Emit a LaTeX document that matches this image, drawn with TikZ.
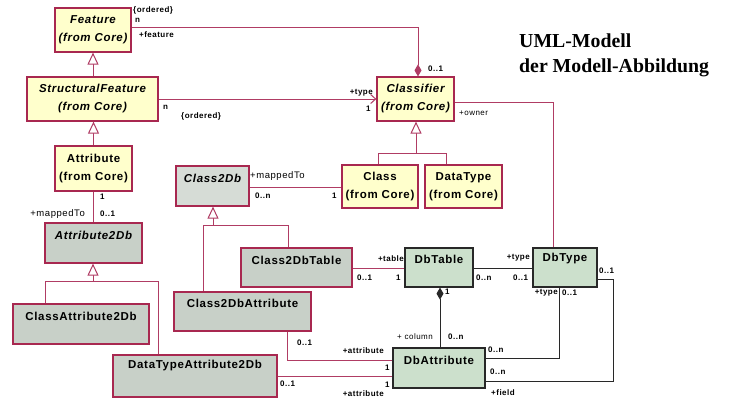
\documentclass[tikz,border=0pt]{standalone}
\usepackage{fontspec}
\setmainfont{Liberation Sans}
\newfontfamily\boxfont[LetterSpace=6]{Liberation Sans}
\newfontfamily\titlefont{Liberation Serif}
\usetikzlibrary{arrows.meta,calc}
\definecolor{crim}{RGB}{168,40,80}
\definecolor{crimln}{RGB}{176,60,100}
\definecolor{yel}{RGB}{255,255,204}
\definecolor{gry}{RGB}{200,208,200}
\definecolor{lgry}{RGB}{214,220,214}
\definecolor{grn}{RGB}{204,224,204}
\definecolor{dk}{RGB}{40,40,40}
\tikzset{
  x=1pt, y=-1pt,
  boxbase/.style={rectangle, line width=1.2pt, inner sep=0pt, align=center,
    font=\boxfont\bfseries\fontsize{11.5}{18}\selectfont},
  ybox/.style={boxbase, draw=crim, fill=yel},
  gbox/.style={boxbase, draw=crim, fill=gry},
  lgbox/.style={boxbase, draw=crim, fill=lgry},
  grbox/.style={boxbase, draw=dk, fill=grn},
  nm/.style={inner sep=0pt, font=\boxfont\bfseries\fontsize{11.5}{18}\selectfont},
  nmi/.style={nm, font=\boxfont\bfseries\itshape\fontsize{11.5}{18}\selectfont},
  lbl/.style={inner sep=0pt, anchor=west, font=\boxfont\bfseries\fontsize{8}{9}\selectfont},
  lblr/.style={inner sep=0pt, anchor=west, font=\boxfont\fontsize{8}{9}\selectfont},
  lblm/.style={inner sep=0pt, anchor=west, font=\boxfont\fontsize{9.5}{10}\selectfont},
  crimline/.style={draw=crimln, line width=1pt},
  darkline/.style={draw=dk, line width=1pt},
  gen/.style={-{Triangle[open, fill=white, length=12pt, width=11pt]}},
  comp/.style={-{Diamond[length=12pt, width=7pt]}},
}
\begin{document}
\begin{tikzpicture}
\fill[white] (0,0) rectangle (730,399);
\useasboundingbox (0,0) rectangle (730,399);

% title
\node[inner sep=0pt, anchor=base west, font=\titlefont\bfseries\fontsize{19.8}{25}\selectfont, align=left] (title) at (519,72) {UML-Modell\\der Modell-Abbildung};

% core classes
\node[ybox, minimum width=76pt, minimum height=44pt, font=\boxfont\bfseries\itshape\fontsize{11.5}{18}\selectfont] (feature) at (93,30) {Feature\\(from Core)};
\node[ybox, minimum width=131pt, minimum height=44pt, font=\boxfont\bfseries\itshape\fontsize{11.5}{18}\selectfont] (sf) at (92.5,99) {StructuralFeature\\(from Core)};
\node[ybox, minimum width=77pt, minimum height=45pt] (attribute) at (93.5,168.5) {Attribute\\(from Core)};
\node[ybox, minimum width=77pt, minimum height=44pt, font=\boxfont\bfseries\itshape\fontsize{11.5}{18}\selectfont] (classifier) at (415.5,99) {Classifier\\(from Core)};
\node[ybox, minimum width=76pt, minimum height=43pt] (class) at (380,186.5) {Class\\(from Core)};
\node[ybox, minimum width=77pt, minimum height=43pt] (datatype) at (463.5,186.5) {DataType\\(from Core)};

% mapping classes
\node[lgbox, minimum width=73pt, minimum height=40pt] (c2db) at (212.5,186) {};
\node[nmi] (c2dbT) at (212.5,178) {Class2Db};
\node[gbox, minimum width=97pt, minimum height=40pt] (a2db) at (93.5,243) {};
\node[nmi] (a2dbT) at (93.5,235) {Attribute2Db};
\node[gbox, minimum width=136pt, minimum height=40pt] (cattr) at (81,324) {};
\node[nm] (cattrT) at (81,316) {ClassAttribute2Db};
\node[gbox, minimum width=164pt, minimum height=42pt] (dtattr) at (195,376) {};
\node[nm] (dtattrT) at (195,366) {DataTypeAttribute2Db};
\node[gbox, minimum width=111pt, minimum height=39pt] (c2dbt) at (296.5,267.5) {};
\node[nm] (c2dbtT) at (296.5,260) {Class2DbTable};
\node[gbox, minimum width=137pt, minimum height=39pt] (c2dba) at (242.5,311.5) {};
\node[nm] (c2dbaT) at (242.5,303) {Class2DbAttribute};

% db classes
\node[grbox, minimum width=68pt, minimum height=39pt] (dbtable) at (439,267.5) {};
\node[nm] (dbtableT) at (439,259) {DbTable};
\node[grbox, minimum width=64pt, minimum height=39pt] (dbtype) at (565,267.5) {};
\node[nm] (dbtypeT) at (565,259) {DbType};
\node[grbox, minimum width=92pt, minimum height=40pt] (dbattr) at (439,368) {};
\node[nm] (dbattrT) at (439,360) {DbAttribute};

% helper coordinates
\coordinate (c1) at (418,27);
\coordinate (c2) at (0,99);
\coordinate (c3) at (553,102);
\coordinate (c4) at (0,187);
\coordinate (c5) at (0,268);
\coordinate (c6) at (440,0);
\coordinate (c7) at (287,360);
\coordinate (c8) at (0,376);
\coordinate (c9) at (559,358);
\coordinate (c10) at (613,279);
\coordinate (c11) at (613,381);
\coordinate (h1) at (93,281);
\coordinate (h1L) at (45,281);
\coordinate (h1R) at (158,281);
\coordinate (h2) at (213,225);
\coordinate (h2L) at (203,225);
\coordinate (h2R) at (288,225);
\coordinate (h3) at (416,153);
\coordinate (h3L) at (378,153);
\coordinate (h3R) at (446,153);

% generalizations
\draw[crimline, gen] (feature.south |- sf.north) -- (feature.south);
\draw[crimline, gen] (attribute.north) -- (attribute.north |- sf.south);
\draw[crimline] (h1L |- cattr.north) -- (h1L) -- (h1R) -- (h1R |- dtattr.north);
\draw[crimline, gen] (h1) -- (h1 |- a2db.south);
\draw[crimline] (h2L |- c2dba.north) -- (h2L) -- (h2R) -- (h2R |- c2dbt.north);
\draw[crimline, gen] (h2) -- (h2 |- c2db.south);
\draw[crimline] (h3L |- class.north) -- (h3L) -- (h3R) -- (h3R |- datatype.north);
\draw[crimline, gen] (h3) -- (h3 |- classifier.south);

% associations
\draw[crimline, comp] (feature.east |- c1) -- (c1) -- (c1 |- classifier.north);
\draw[crimline, -{Straight Barb[length=5pt, width=9pt]}] (sf.east |- c2) -- (classifier.west |- c2);
\draw[crimline] (classifier.east |- c3) -- (c3) -- (c3 |- dbtype.north);
\draw[crimline] (attribute.south) -- (attribute.south |- a2db.north);
\draw[crimline] (c2db.east |- c4) -- (class.west |- c4);
\draw[crimline] (c2dbt.east |- c5) -- (dbtable.west |- c5);
\draw[darkline] (dbtable.east |- c5) -- (dbtype.west |- c5);
\draw[darkline, comp] (c6 |- dbattr.north) -- (c6 |- dbtable.south);
\draw[crimline] (c7 |- c2dba.south) -- (c7) -- (dbattr.west |- c7);
\draw[crimline] (dtattr.east |- c8) -- (dbattr.west |- c8);
\draw[darkline] (c9 |- dbtype.south) -- (c9) -- (dbattr.east |- c9);
\draw[darkline] (dbtype.east |- c10) -- (c10) -- (c11) -- (dbattr.east |- c11);

% labels
\node[lbl] (l1) at (133,10) {\{ordered\}};
\node[lbl] (l2) at (135,20) {n};
\node[lbl] (l3) at (139,35) {+feature};
\node[lbl] (l4) at (428,69) {0..1};
\node[lbl] (l5) at (163,107) {n};
\node[lbl] (l6) at (181,116) {\{ordered\}};
\node[lbl, anchor=east] (l7) at (373,93) {+type};
\node[lbl] (l8) at (366,109) {1};
\node[lblr] (l9) at (459,113) {+owner};
\node[lbl] (l10) at (100,197) {1};
\node[lbl] (l11) at (100,214) {0..1};
\node[lblm, anchor=east] (l12) at (85,214) {+mappedTo};
\node[lblm] (l13) at (250,176) {+mappedTo};
\node[lbl] (l14) at (255,196) {0..n};
\node[lbl] (l15) at (332,196) {1};
\node[lbl, anchor=east] (l16) at (404,259) {+table};
\node[lbl] (l17) at (357,278) {0..1};
\node[lbl] (l18) at (396,278) {1};
\node[lbl] (l19) at (476,278) {0..n};
\node[lbl, anchor=east] (l20) at (530,258) {+type};
\node[lbl] (l21) at (513,278) {0..1};
\node[lbl] (l22) at (445,292) {1};
\node[lblr, anchor=east] (l23) at (433,337) {+ column};
\node[lbl] (l24) at (448,337) {0..n};
\node[lbl] (l25) at (599,271) {0..1};
\node[lbl, anchor=east] (l26) at (558,293) {+type};
\node[lbl] (l27) at (562,293) {0..1};
\node[lbl] (l28) at (488,350) {0..n};
\node[lbl] (l29) at (490,372) {0..n};
\node[lbl] (l30) at (491,393) {+field};
\node[lbl] (l31) at (297,343) {0..1};
\node[lbl, anchor=east] (l32) at (384,351) {+attribute};
\node[lbl] (l33) at (385,368) {1};
\node[lbl] (l34) at (280,384) {0..1};
\node[lbl] (l35) at (385,385) {1};
\node[lbl, anchor=east] (l36) at (384,394) {+attribute};
\end{tikzpicture}
\end{document}
